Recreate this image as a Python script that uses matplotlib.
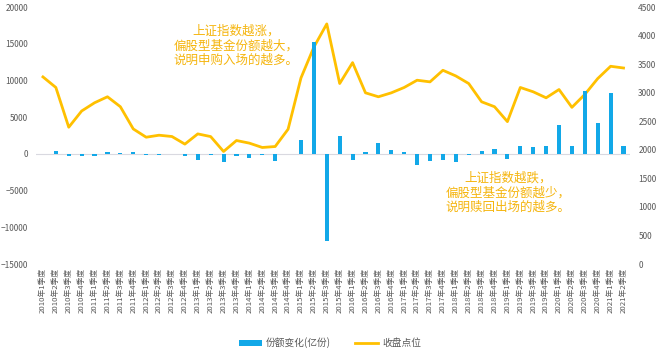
import matplotlib
matplotlib.use("Agg")
import matplotlib.pyplot as plt
import numpy as np

plt.rcParams['font.family'] = ['Noto Sans CJK SC', 'DejaVu Sans']

years = list(range(2010, 2022))
categories = [f"{y}年{q}季度" for y in years for q in range(1, 5)][:46]

share_change = [0, 450, -300, -300, -250, 300, 150, 200, -200, -100, 50, -250,
                -800, -150, -1050, -350, -550, -150, -900, 0, 1900, 15200, -11800, 2400,
                -820, 320, 1540, 550, 270, -1450, -900, -820, -1090, -200, 450,
                640, -730, 1040, 1000, 1130, 3950, 1040, 8620, 4170, 8300, 1130]

close_points = [3277, 3092, 2396, 2680, 2824, 2929, 2755, 2366, 2221, 2256, 2233, 2100,
                2279, 2232, 1971, 2163, 2117, 2041, 2058, 2361, 3259, 3799, 4205, 3161,
                3527, 2998, 2929, 2998, 3092, 3219, 3190, 3393, 3294, 3161, 2841,
                2755, 2494, 3092, 3016, 2911, 3056, 2744, 2970, 3248, 3463, 3433]

bar_label = "份额变化(亿份)"
line_label = "收盘点位"
note_up = "上证指数越涨，\n偏股型基金份额越大，\n说明申购入场的越多。"
note_down = "上证指数越跌，\n偏股型基金份额越少，\n说明赎回出场的越多。"

blue = '#12A8E8'
gold = '#FFC000'
txt_gold = '#F5B50E'
gray = '#595959'

fig = plt.figure(figsize=(6.6, 3.53), dpi=100)
ax = fig.add_axes([0.0553, 0.252, 0.8992, 0.728])
ax2 = ax.twinx()

x = np.arange(len(categories))
ax.bar(x, share_change, width=0.32, color=blue, label=bar_label, zorder=3)
ax.axhline(0, color='#D9D9E0', lw=0.8, zorder=1)
ax2.plot(x, close_points, color=gold, lw=2.0, label=line_label, zorder=4)

ax.set_xlim(-0.5, len(categories) - 0.5)
ax.set_ylim(-15000, 20000)
ax.set_yticks(range(-15000, 20001, 5000))
ax2.set_ylim(0, 4500)
ax2.set_yticks(range(0, 4501, 500))

ax.set_xticks(x)
ax.set_xticklabels(categories, rotation=90, fontsize=5.6, color=gray)
ax.tick_params(axis='y', labelsize=6, colors=gray, length=0, pad=6)
ax2.tick_params(axis='y', labelsize=6, colors=gray, length=0, pad=6)
ax.tick_params(axis='x', length=0, pad=3)

for a in (ax, ax2):
    for s in a.spines.values():
        s.set_visible(False)

ax.set_zorder(ax2.get_zorder() + 1)
ax.patch.set_visible(False)

fig.text(236/660, 1 - 46/353, note_up, ha='center', va='center', fontsize=9,
         color=txt_gold, linespacing=1.15)
fig.text(508/660, 1 - 193/353, note_down, ha='center', va='center', fontsize=9,
         color=txt_gold, linespacing=1.15)

h1, l1 = ax.get_legend_handles_labels()
h2, l2 = ax2.get_legend_handles_labels()
fig.legend(h1 + h2, l1 + l2, loc='center', bbox_to_anchor=(330/660, 1 - 343/353),
           ncol=2, frameon=False, fontsize=7, handlelength=2.4, handleheight=0.5,
           columnspacing=2.5, handletextpad=0.4, labelcolor=gray)

fig.savefig('out.png', dpi=100)
